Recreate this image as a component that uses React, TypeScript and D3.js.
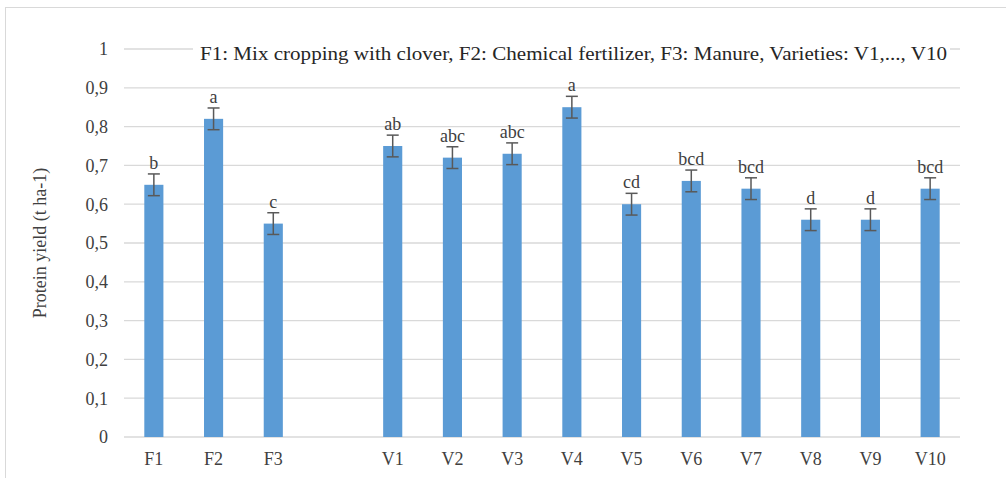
import React from 'react';
import * as d3 from 'd3';

// categories, with an empty slot between the fertilizer and variety groups
const categories = ['F1', 'F2', 'F3', '', 'V1', 'V2', 'V3', 'V4', 'V5', 'V6', 'V7', 'V8', 'V9', 'V10'];
const yields = [0.65, 0.82, 0.55, null, 0.75, 0.72, 0.73, 0.85, 0.6, 0.66, 0.64, 0.56, 0.56, 0.64];
const errors = [0.028, 0.028, 0.028, null, 0.028, 0.028, 0.028, 0.028, 0.028, 0.028, 0.028, 0.028, 0.028, 0.028];
const letters = ['b', 'a', 'c', '', 'ab', 'abc', 'abc', 'a', 'cd', 'bcd', 'bcd', 'd', 'd', 'bcd'];
const yTicks = [0, 0.1, 0.2, 0.3, 0.4, 0.5, 0.6, 0.7, 0.8, 0.9, 1];
const note = 'F1: Mix cropping with clover, F2: Chemical fertilizer, F3: Manure, Varieties: V1,..., V10';

const W = 1006;
const H = 478;
const margin = { top: 49, right: 46, bottom: 41, left: 124 };
const font = "'Times New Roman', Times, 'Liberation Serif', 'DejaVu Serif', 'Noto Serif', Georgia, serif";

export default function App() {
  const key = (c: string, i: number) => c || `gap${i}`;
  const x = d3.scaleBand<string>()
    .domain(categories.map(key))
    .range([margin.left, W - margin.right])
    .paddingInner(0.68)
    .paddingOuter(0.34);
  const y = d3.scaleLinear().domain([0, 1]).range([H - margin.bottom, margin.top]);
  const fmt = (v: number) => (v === 0 || v === 1 ? String(v) : d3.format('.1f')(v).replace('.', ','));

  return (
    <svg width={W} height={H} style={{ position: 'absolute', left: 0, top: 0, background: '#fff', fontFamily: font }}>
      <rect x={5.5} y={7.5} width={1100} height={600} fill="#fff" stroke="#d9d9d9" />

      {yTicks.map(t => (
        <g key={t}>
          <line x1={margin.left} x2={W - margin.right} y1={y(t)} y2={y(t)} stroke="#d9d9d9" strokeWidth={1.3} />
          <text x={108} y={y(t)} dy="0.35em" textAnchor="end" fontSize={18} fill="#404040">{fmt(t)}</text>
        </g>
      ))}

      <rect x={193} y={40} width={757} height={24} fill="#fff" />
      <text x={200} y={60} fontSize={18} fill="#262626" textLength={747} lengthAdjust="spacingAndGlyphs">{note}</text>

      <text transform={`translate(46,${(y(0) + y(1)) / 2}) rotate(-90)`} textAnchor="middle" fontSize={18} fill="#404040">
        Protein yield (t ha-1)
      </text>

      {categories.map((c, i) => {
        const v = yields[i];
        const e = errors[i];
        const bx = x(key(c, i))!;
        const cx = bx + x.bandwidth() / 2;
        return (
          <g key={key(c, i)}>
            {v !== null && e !== null && (
              <>
                <rect x={bx} y={y(v)} width={x.bandwidth()} height={y(0) - y(v)} fill="#5b9bd5" />
                <line x1={cx} x2={cx} y1={y(v + e)} y2={y(v - e)} stroke="#595959" strokeWidth={1.5} />
                <line x1={cx - 6} x2={cx + 6} y1={y(v + e)} y2={y(v + e)} stroke="#595959" strokeWidth={1.5} />
                <line x1={cx - 6} x2={cx + 6} y1={y(v - e)} y2={y(v - e)} stroke="#595959" strokeWidth={1.5} />
                <text x={cx} y={y(v + e) - 5} textAnchor="middle" fontSize={18} fill="#404040">{letters[i]}</text>
              </>
            )}
            <text x={cx} y={y(0) + 28} textAnchor="middle" fontSize={18} fill="#404040">{c}</text>
          </g>
        );
      })}
    </svg>
  );
}
